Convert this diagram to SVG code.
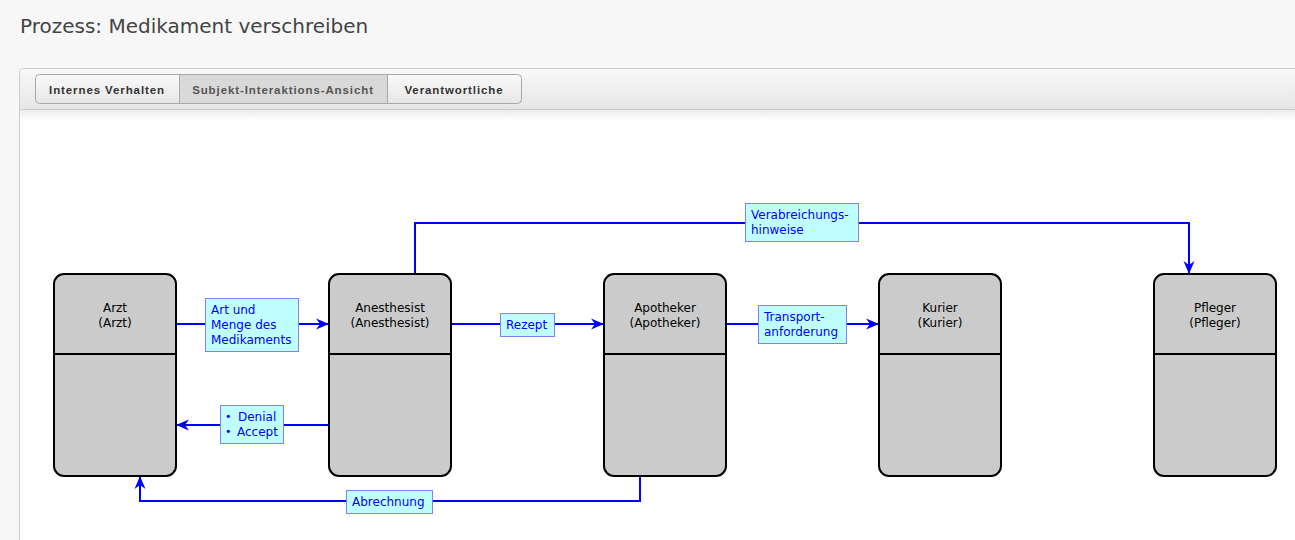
<svg xmlns="http://www.w3.org/2000/svg" width="1295" height="540" viewBox="0 0 1295 540">
<defs>
<linearGradient id="bar" x1="0" y1="0" x2="0" y2="1"><stop offset="0" stop-color="#f8f8f8"/><stop offset="1" stop-color="#e6e6e6"/></linearGradient>
<linearGradient id="tab" x1="0" y1="0" x2="0" y2="1"><stop offset="0" stop-color="#fafafa"/><stop offset="1" stop-color="#e6e6e6"/></linearGradient>
<linearGradient id="shadow" x1="0" y1="0" x2="0" y2="1"><stop offset="0" stop-color="#ececec"/><stop offset="1" stop-color="#ffffff"/></linearGradient>
<marker id="arr" markerUnits="userSpaceOnUse" markerWidth="14" markerHeight="12" refX="13" refY="6" orient="auto" viewBox="0 0 14 12">
<path d="M0,0.5 L13,6 L0,11.5 L4,6 z" fill="#0000ff"/>
</marker>
<style>
.title{font-family:"DejaVu Sans",Verdana,sans-serif;font-size:20px;fill:#444}
.tabt{font-family:"Liberation Sans",Arial,sans-serif;font-size:11.5px;font-weight:bold;fill:#333;letter-spacing:0.9px;text-anchor:middle}
.tabt2{fill:#555}
.node rect{fill:#cbcbcb;stroke:#000;stroke-width:2}
.node line{stroke:#000;stroke-width:2}
.node text{font-family:"DejaVu Sans",Verdana,sans-serif;font-size:12px;fill:#000;text-anchor:middle}
.conn path{fill:none;stroke:#0000ff;stroke-width:2}
.lbl rect{fill:#c0ffff;stroke:#7f7fff;stroke-width:1}
.lbl text{font-family:"DejaVu Sans",Verdana,sans-serif;font-size:12px;fill:#0000ff}
</style>
</defs>
<rect x="0" y="0" width="1295" height="540" fill="#f7f7f7"/>
<text class="title" x="20" y="33">Prozess: Medikament verschreiben</text>
<rect x="19.5" y="68.5" width="1290" height="490" rx="4" fill="#ffffff" stroke="#cccccc"/>
<path d="M20,109 V73 Q20,69 24,69 H1295 V109 z" fill="url(#bar)"/>
<line x1="20" y1="109.5" x2="1295" y2="109.5" stroke="#cccccc"/>
<rect x="20" y="110" width="1275" height="10" fill="url(#shadow)"/>
<g id="tabs">
<rect x="35.5" y="74.5" width="486" height="29" rx="4" fill="url(#tab)" stroke="#a8a8a8"/>
<rect x="179.5" y="75" width="208" height="28" fill="#d9d9d9"/>
<line x1="179.5" y1="75" x2="179.5" y2="103" stroke="#a8a8a8"/>
<line x1="387.5" y1="75" x2="387.5" y2="103" stroke="#a8a8a8"/>
<text class="tabt" x="107" y="94">Internes Verhalten</text>
<text class="tabt tabt2" x="283" y="94">Subjekt-Interaktions-Ansicht</text>
<text class="tabt" x="454" y="94">Verantwortliche</text>
</g>
<g id="connectors" class="conn">
<path d="M176,324 H329" marker-end="url(#arr)"/>
<path d="M329,425 H176" marker-end="url(#arr)"/>
<path d="M451,324 H604" marker-end="url(#arr)"/>
<path d="M726,324 H879" marker-end="url(#arr)"/>
<path d="M415,274 V223 H1189 V274" marker-end="url(#arr)"/>
<path d="M640,476 V501 H140 V476" marker-end="url(#arr)"/>
</g>
<g id="labels" class="lbl">
<g id="lbl-art"><rect x="205.5" y="298.5" width="93" height="53"/><text x="211" y="314">Art und</text><text x="211" y="329">Menge des</text><text x="211" y="344">Medikaments</text></g>
<g id="lbl-denial"><rect x="220.5" y="405.5" width="63" height="38"/><text x="225" y="421"><tspan font-size="11" dy="-1">•</tspan><tspan x="238" dy="1">Denial</tspan></text><text x="225" y="436"><tspan font-size="11" dy="-1">•</tspan><tspan x="237" dy="1">Accept</tspan></text></g>
<g id="lbl-rezept"><rect x="500.5" y="313.5" width="54" height="23"/><text x="506" y="329">Rezept</text></g>
<g id="lbl-transport"><rect x="758.5" y="305.5" width="88" height="38"/><text x="764" y="321">Transport-</text><text x="764" y="336">anforderung</text></g>
<g id="lbl-verab"><rect x="745.5" y="203.5" width="113" height="38"/><text x="751" y="219">Verabreichungs-</text><text x="751" y="234">hinweise</text></g>
<g id="lbl-abr"><rect x="346.5" y="490.5" width="86" height="23"/><text x="352" y="506">Abrechnung</text></g>
</g>
<g id="node-arzt" class="node"><rect x="54" y="274" width="122" height="202" rx="10"/><line x1="54" y1="354" x2="176" y2="354"/><text x="115" y="312">Arzt</text><text x="115" y="327">(Arzt)</text></g>
<g id="node-anesthesist" class="node"><rect x="329" y="274" width="122" height="202" rx="10"/><line x1="329" y1="354" x2="451" y2="354"/><text x="390" y="312">Anesthesist</text><text x="390" y="327">(Anesthesist)</text></g>
<g id="node-apotheker" class="node"><rect x="604" y="274" width="122" height="202" rx="10"/><line x1="604" y1="354" x2="726" y2="354"/><text x="665" y="312">Apotheker</text><text x="665" y="327">(Apotheker)</text></g>
<g id="node-kurier" class="node"><rect x="879" y="274" width="122" height="202" rx="10"/><line x1="879" y1="354" x2="1001" y2="354"/><text x="940" y="312">Kurier</text><text x="940" y="327">(Kurier)</text></g>
<g id="node-pfleger" class="node"><rect x="1154" y="274" width="122" height="202" rx="10"/><line x1="1154" y1="354" x2="1276" y2="354"/><text x="1215" y="312">Pfleger</text><text x="1215" y="327">(Pfleger)</text></g>
</svg>
